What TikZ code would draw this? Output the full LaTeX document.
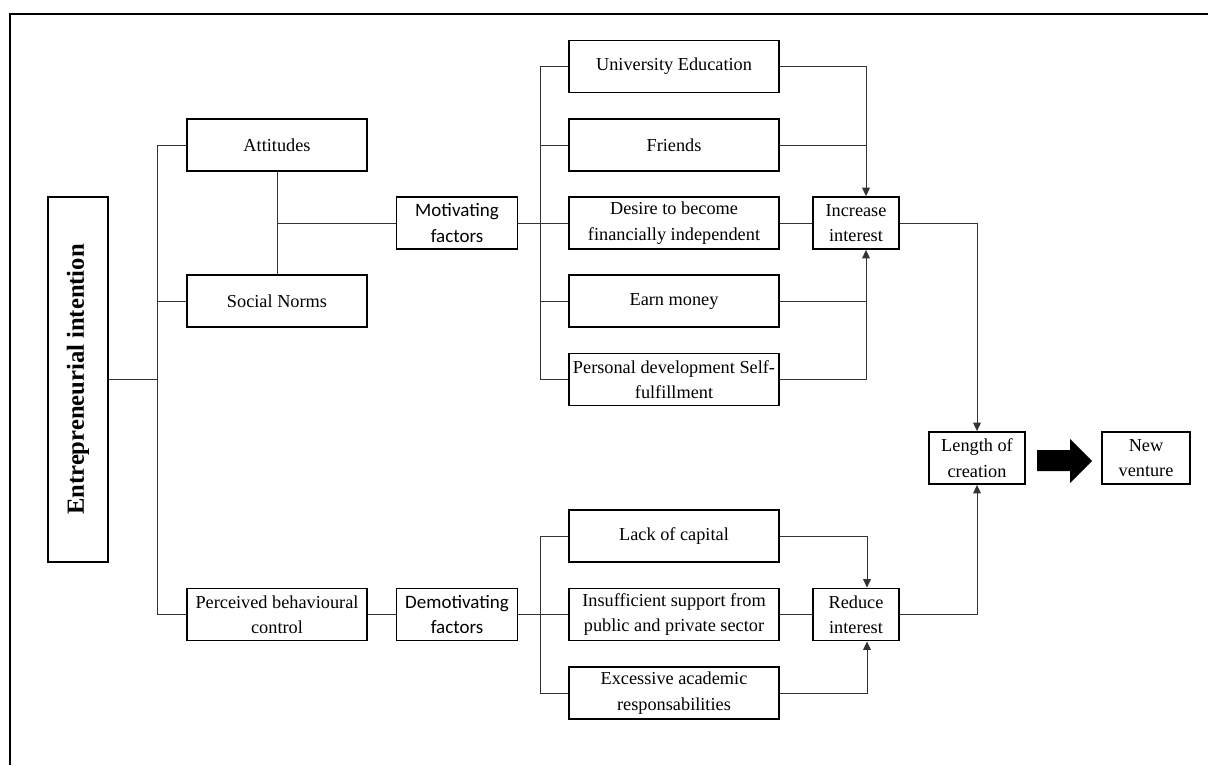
\documentclass[tikz,border=0pt]{standalone}
\usepackage{fontspec}
\setmainfont{Liberation Serif}
\newfontfamily\calibfont{Carlito}
\usetikzlibrary{arrows.meta}

\tikzset{
  box/.style={draw, line width=1.3pt, align=center, inner sep=1pt,
    minimum height=1.3cm, font=\fontsize{13}{18}\selectfont},
  sbox/.style={box, font=\calibfont\fontsize{13.5}{18}\selectfont},
  conn/.style={draw=black!80, line width=0.7pt},
  arr/.style={conn, -{Triangle[length=6pt,width=5.5pt]}},
}

\begin{document}
\begin{tikzpicture}[x=0.025cm, y=-0.025cm]

  % Bounding box of the scheme
  \useasboundingbox (0,0) rectangle (1208,765);
  \draw[line width=1.1pt] (10,765) -- (10,14) -- (1208,14);

  %%%%%%%%%%%%%%%%%%%%%%%%%%%%%%%%% Left part %%%%%%%%%%%%%%%%%%%%%%%%%%%%%%%%%%%%
  \draw (78,379.5) node[box, rotate=90, minimum width=9.125cm, minimum height=1.5cm,
    font=\bfseries\fontsize{17.5}{20}\selectfont] (ei) {Entrepreneurial intention};

  \draw (277,145) node[box, minimum width=4.5cm] (att) {Attitudes};
  \draw (277,301) node[box, minimum width=4.5cm] (sn) {Social Norms};
  \draw (277,614.5) node[box, minimum width=4.5cm] (pbc) {Perceived behavioural\\control};

  \draw (457,223) node[sbox, minimum width=3.025cm] (mot) {Motivating\\factors};
  \draw (457,614.5) node[sbox, minimum width=3.025cm] (dem) {Demotivating\\factors};

  %%%%%%%%%%%%%%%%%%%%%%%%%%%%%%%%% Factors %%%%%%%%%%%%%%%%%%%%%%%%%%%%%%%%%%%%
  \draw (674,66.5) node[box, minimum width=5.25cm] (uni) {University Education};
  \draw (674,145) node[box, minimum width=5.25cm] (fri) {Friends};
  \draw (674,223) node[box, minimum width=5.25cm] (des) {Desire to become\\financially independent};
  \draw (674,301) node[box, minimum width=5.25cm] (earn) {Earn money};
  \draw (674,379.5) node[box, minimum width=5.25cm] (pers) {Personal development Self-\\fulfillment};

  \draw (674,536) node[box, minimum width=5.25cm] (lack) {Lack of capital};
  \draw (674,614.5) node[box, minimum width=5.25cm] (ins) {Insufficient support from\\public and private sector};
  \draw (674,693) node[box, minimum width=5.25cm] (exc) {Excessive academic\\responsabilities};

  %%%%%%%%%%%%%%%%%%%%%%%%%%%%%%%%% Right part %%%%%%%%%%%%%%%%%%%%%%%%%%%%%%%%%%%%
  \draw (856,223) node[box, minimum width=2.15cm] (inc) {Increase\\interest};
  \draw (856,614.5) node[box, minimum width=2.15cm] (red) {Reduce\\interest};
  \draw (977,458) node[box, minimum width=2.4cm] (len) {Length of\\creation};
  \draw (1146,458) node[box, minimum width=2.19cm] (ven) {New\\venture};

  % block arrow
  \fill (1037,450) -- (1070,450) -- (1070,439) -- (1092,461) -- (1070,483)
    -- (1070,471) -- (1037,471) -- cycle;

  %%%%%%%%%%%%%%%%%%%%%%%%%%%%%%%%% Connectors %%%%%%%%%%%%%%%%%%%%%%%%%%%%%%%%%%%%
  \coordinate (trTop) at (157,145);
  \coordinate (trBot) at (157,614.5);
  \draw[conn] (att.west) -- (trTop) -- (trBot) -- (pbc.west);
  \draw[conn] (sn.west) -- (sn.west -| trTop);
  \draw[conn] (ei.south) -- (ei.south -| trTop);

  \draw[conn] (att.south) -- (sn.north);
  \draw[conn] (att.south |- mot.west) -- (mot.west);
  \draw[conn] (pbc.east) -- (dem.west);

  \coordinate (mbTop) at (540,66.5);
  \coordinate (mbBot) at (540,379.5);
  \draw[conn] (mot.east) -- (des.west);
  \draw[conn] (uni.west) -- (mbTop) -- (mbBot) -- (pers.west);
  \draw[conn] (fri.west) -- (fri.west -| mbTop);
  \draw[conn] (earn.west) -- (earn.west -| mbTop);

  \coordinate (dbTop) at (540,536);
  \coordinate (dbBot) at (540,693);
  \draw[conn] (dem.east) -- (ins.west);
  \draw[conn] (lack.west) -- (dbTop) -- (dbBot) -- (exc.west);

  \coordinate (incTop) at ([xshift=0.25cm]inc.north);
  \coordinate (incBot) at ([xshift=0.25cm]inc.south);
  \draw[arr] (uni.east) -| (incTop);
  \draw[conn] (fri.east) -- (fri.east -| incTop);
  \draw[conn] (des.east) -- (inc.west);
  \draw[conn] (earn.east) -- (earn.east -| incBot);
  \draw[arr] (pers.east) -| (incBot);

  \coordinate (redTop) at ([xshift=0.275cm]red.north);
  \coordinate (redBot) at ([xshift=0.275cm]red.south);
  \draw[arr] (lack.east) -| (redTop);
  \draw[conn] (ins.east) -- (red.west);
  \draw[arr] (exc.east) -| (redBot);

  \draw[arr] (inc.east) -| (len.north);
  \draw[arr] (red.east) -| (len.south);

\end{tikzpicture}
\end{document}
